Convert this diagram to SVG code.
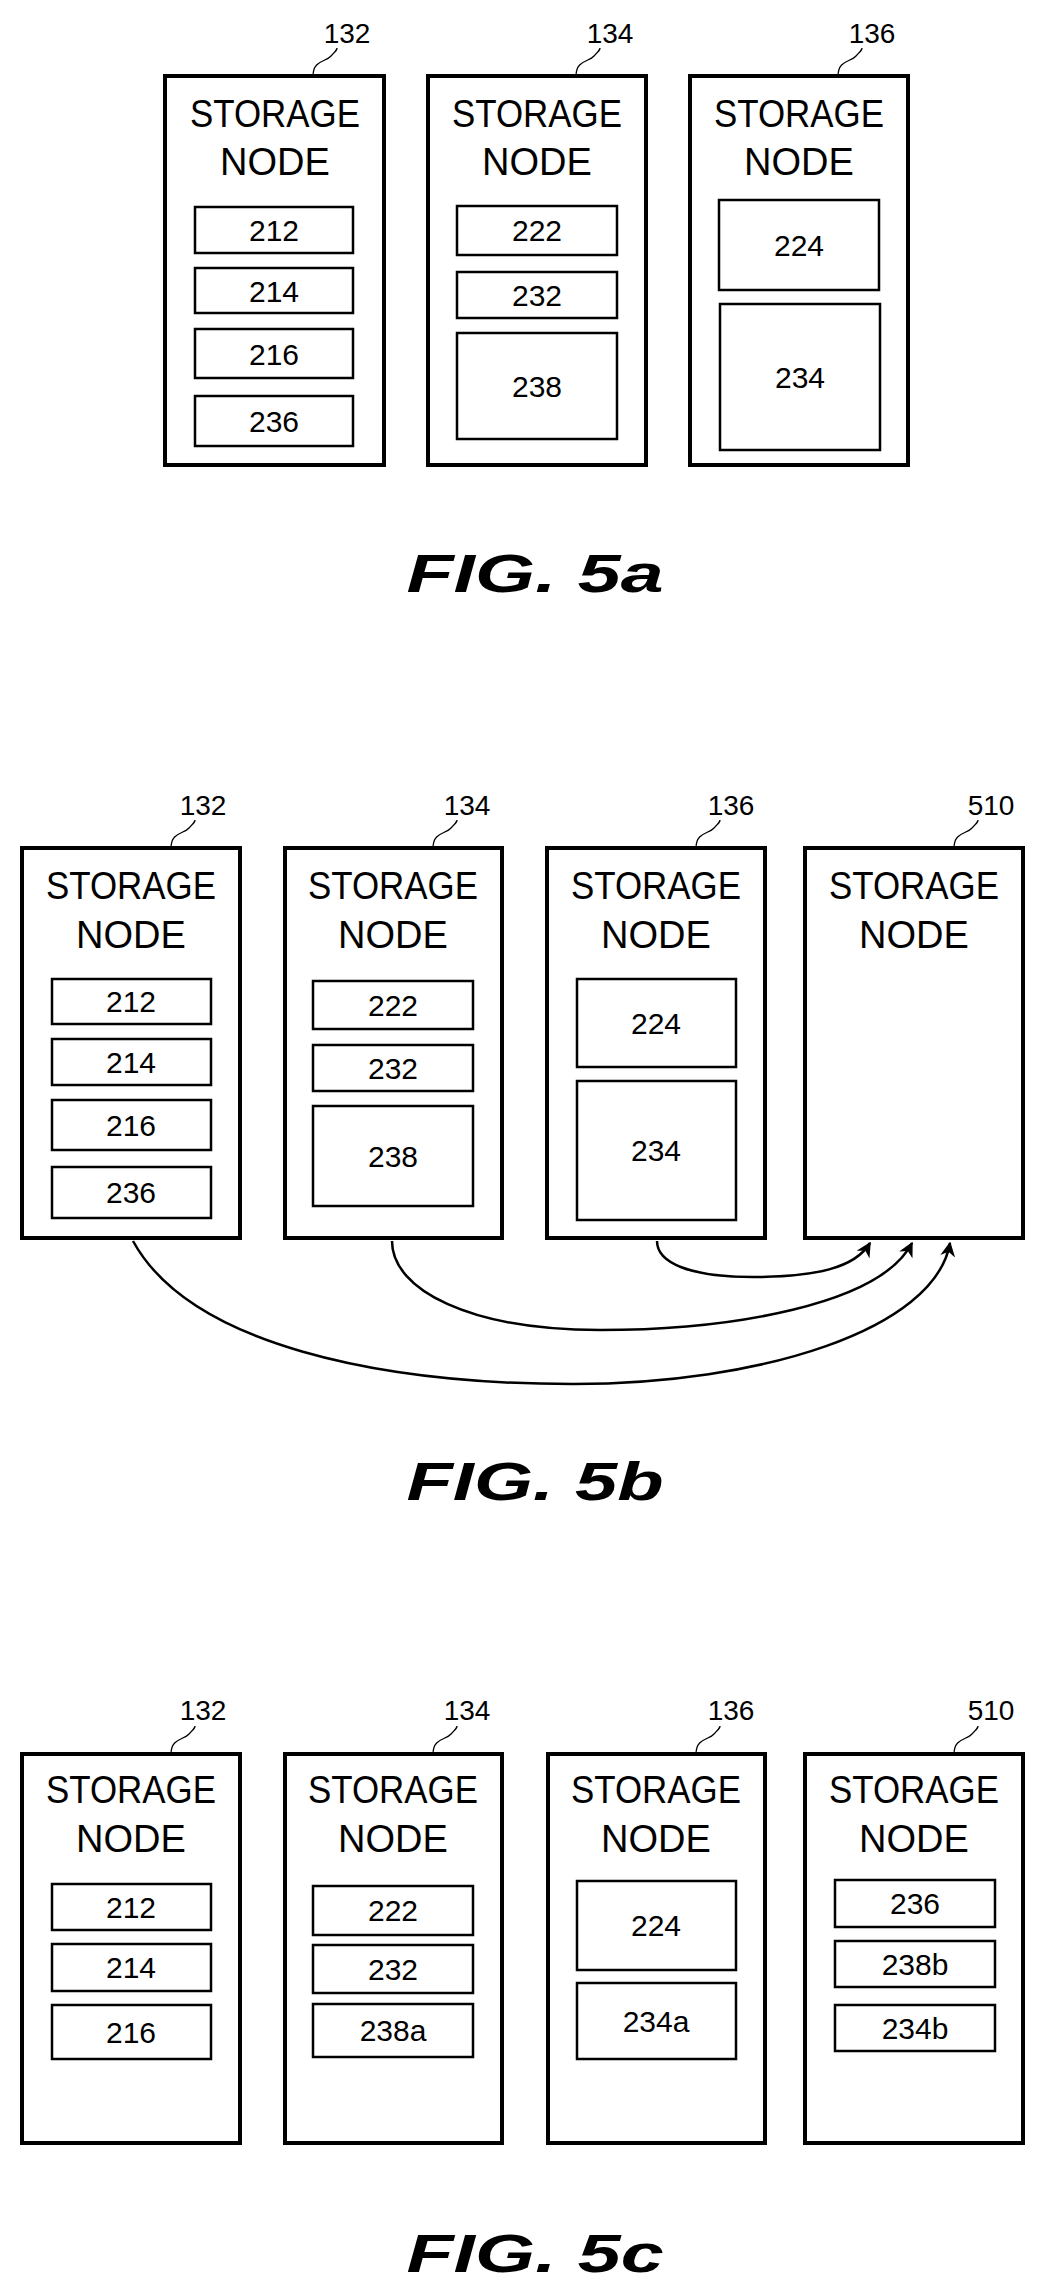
<svg xmlns="http://www.w3.org/2000/svg" width="1038" height="2289" viewBox="0 0 1038 2289">
<defs>
<style>
.n{fill:#fff;stroke:#000;stroke-width:4}
.s{fill:#fff;stroke:#000;stroke-width:2.5}
.t{font-family:"Liberation Sans",Arial,sans-serif;font-size:38px;text-anchor:middle}
.d{font-family:"Liberation Sans",Arial,sans-serif;font-size:30px;text-anchor:middle}
.r{font-family:"Liberation Sans",Arial,sans-serif;font-size:28px;text-anchor:middle}
.f{font-family:"Liberation Sans",Arial,sans-serif;font-size:54px;font-weight:bold;font-style:italic;text-anchor:middle}
.l{fill:none;stroke:#000;stroke-width:1.3}
.c{fill:none;stroke:#000;stroke-width:2.5}
</style>
<marker id="ah" viewBox="0 0 10 10" refX="9" refY="5" markerWidth="6" markerHeight="6" orient="auto" markerUnits="strokeWidth"><path d="M0,0L10,5L0,10L3,5Z" fill="#000"/></marker>
</defs>

<!-- FIG 5a -->
<g id="n5a-132">
<rect class="n" x="165" y="76" width="219" height="389"/>
<text class="t" x="275" y="127" textLength="170" lengthAdjust="spacingAndGlyphs">STORAGE</text>
<text class="t" x="275" y="175">NODE</text>
<rect class="s" x="195" y="207" width="158" height="46"/><text class="d" x="274" y="241">212</text>
<rect class="s" x="195" y="268" width="158" height="45"/><text class="d" x="274" y="302">214</text>
<rect class="s" x="195" y="329" width="158" height="49"/><text class="d" x="274" y="365">216</text>
<rect class="s" x="195" y="396" width="158" height="50"/><text class="d" x="274" y="432">236</text>
<path class="l" d="M313,76 C313,60 326,62 331,56 C336,51 337,50 337,48"/>
<text class="r" x="347" y="43">132</text>
</g>
<g id="n5a-134">
<rect class="n" x="428" y="76" width="218" height="389"/>
<text class="t" x="537" y="127" textLength="170" lengthAdjust="spacingAndGlyphs">STORAGE</text>
<text class="t" x="537" y="175">NODE</text>
<rect class="s" x="457" y="206" width="160" height="49"/><text class="d" x="537" y="241">222</text>
<rect class="s" x="457" y="272" width="160" height="46"/><text class="d" x="537" y="306">232</text>
<rect class="s" x="457" y="333" width="160" height="106"/><text class="d" x="537" y="397">238</text>
<path class="l" d="M576,76 C576,60 589,62 594,56 C599,51 600,50 600,48"/>
<text class="r" x="610" y="43">134</text>
</g>
<g id="n5a-136">
<rect class="n" x="690" y="76" width="218" height="389"/>
<text class="t" x="799" y="127" textLength="170" lengthAdjust="spacingAndGlyphs">STORAGE</text>
<text class="t" x="799" y="175">NODE</text>
<rect class="s" x="719" y="200" width="160" height="90"/><text class="d" x="799" y="256">224</text>
<rect class="s" x="720" y="304" width="160" height="146"/><text class="d" x="800" y="388">234</text>
<path class="l" d="M838,76 C838,60 851,62 856,56 C861,51 862,50 862,48"/>
<text class="r" x="872" y="43">136</text>
</g>
<text class="f" x="535" y="592" textLength="257" lengthAdjust="spacingAndGlyphs">FIG.  5a</text>

<!-- FIG 5b -->
<g id="n5b-132">
<rect class="n" x="22" y="848" width="218" height="390"/>
<text class="t" x="131" y="899" textLength="170" lengthAdjust="spacingAndGlyphs">STORAGE</text>
<text class="t" x="131" y="948">NODE</text>
<rect class="s" x="52" y="979" width="159" height="45"/><text class="d" x="131" y="1012">212</text>
<rect class="s" x="52" y="1039" width="159" height="46"/><text class="d" x="131" y="1073">214</text>
<rect class="s" x="52" y="1100" width="159" height="50"/><text class="d" x="131" y="1136">216</text>
<rect class="s" x="52" y="1167" width="159" height="51"/><text class="d" x="131" y="1203">236</text>
<path class="l" d="M171,848 C171,832 184,834 189,828 C194,823 195,822 195,820"/>
<text class="r" x="203" y="815">132</text>
</g>
<g id="n5b-134">
<rect class="n" x="285" y="848" width="217" height="390"/>
<text class="t" x="393" y="899" textLength="170" lengthAdjust="spacingAndGlyphs">STORAGE</text>
<text class="t" x="393" y="948">NODE</text>
<rect class="s" x="313" y="981" width="160" height="48"/><text class="d" x="393" y="1016">222</text>
<rect class="s" x="313" y="1045" width="160" height="46"/><text class="d" x="393" y="1079">232</text>
<rect class="s" x="313" y="1106" width="160" height="100"/><text class="d" x="393" y="1167">238</text>
<path class="l" d="M433,848 C433,832 446,834 451,828 C456,823 457,822 457,820"/>
<text class="r" x="467" y="815">134</text>
</g>
<g id="n5b-136">
<rect class="n" x="547" y="848" width="218" height="390"/>
<text class="t" x="656" y="899" textLength="170" lengthAdjust="spacingAndGlyphs">STORAGE</text>
<text class="t" x="656" y="948">NODE</text>
<rect class="s" x="577" y="979" width="159" height="88"/><text class="d" x="656" y="1034">224</text>
<rect class="s" x="577" y="1081" width="159" height="139"/><text class="d" x="656" y="1161">234</text>
<path class="l" d="M696,848 C696,832 709,834 714,828 C719,823 720,822 720,820"/>
<text class="r" x="731" y="815">136</text>
</g>
<g id="n5b-510">
<rect class="n" x="805" y="848" width="218" height="390"/>
<text class="t" x="914" y="899" textLength="170" lengthAdjust="spacingAndGlyphs">STORAGE</text>
<text class="t" x="914" y="948">NODE</text>
<path class="l" d="M954,848 C954,832 967,834 972,828 C977,823 978,822 978,820"/>
<text class="r" x="991" y="815">510</text>
</g>
<g id="connectors">
<path class="c" marker-end="url(#ah)" d="M133,1241 C190,1345 380,1384 573,1384 C760,1384 935,1330 950,1243"/>
<path class="c" marker-end="url(#ah)" d="M392,1241 C392,1290 470,1330 600,1330 C730,1330 880,1305 912,1243"/>
<path class="c" marker-end="url(#ah)" d="M657,1241 C657,1263 690,1277 753,1277 C815,1277 855,1268 870,1243"/>
</g>
<text class="f" x="535" y="1500" textLength="257" lengthAdjust="spacingAndGlyphs">FIG.  5b</text>

<!-- FIG 5c -->
<g id="n5c-132">
<rect class="n" x="22" y="1754" width="218" height="389"/>
<text class="t" x="131" y="1803" textLength="170" lengthAdjust="spacingAndGlyphs">STORAGE</text>
<text class="t" x="131" y="1852">NODE</text>
<rect class="s" x="52" y="1884" width="159" height="46"/><text class="d" x="131" y="1918">212</text>
<rect class="s" x="52" y="1944" width="159" height="47"/><text class="d" x="131" y="1978">214</text>
<rect class="s" x="52" y="2005" width="159" height="54"/><text class="d" x="131" y="2043">216</text>
<path class="l" d="M171,1754 C171,1738 184,1740 189,1734 C194,1729 195,1728 195,1726"/>
<text class="r" x="203" y="1720">132</text>
</g>
<g id="n5c-134">
<rect class="n" x="285" y="1754" width="217" height="389"/>
<text class="t" x="393" y="1803" textLength="170" lengthAdjust="spacingAndGlyphs">STORAGE</text>
<text class="t" x="393" y="1852">NODE</text>
<rect class="s" x="313" y="1886" width="160" height="49"/><text class="d" x="393" y="1921">222</text>
<rect class="s" x="313" y="1945" width="160" height="48"/><text class="d" x="393" y="1980">232</text>
<rect class="s" x="313" y="2004" width="160" height="53"/><text class="d" x="393" y="2041">238a</text>
<path class="l" d="M433,1754 C433,1738 446,1740 451,1734 C456,1729 457,1728 457,1726"/>
<text class="r" x="467" y="1720">134</text>
</g>
<g id="n5c-136">
<rect class="n" x="548" y="1754" width="217" height="389"/>
<text class="t" x="656" y="1803" textLength="170" lengthAdjust="spacingAndGlyphs">STORAGE</text>
<text class="t" x="656" y="1852">NODE</text>
<rect class="s" x="577" y="1881" width="159" height="89"/><text class="d" x="656" y="1936">224</text>
<rect class="s" x="577" y="1983" width="159" height="76"/><text class="d" x="656" y="2032">234a</text>
<path class="l" d="M696,1754 C696,1738 709,1740 714,1734 C719,1729 720,1728 720,1726"/>
<text class="r" x="731" y="1720">136</text>
</g>
<g id="n5c-510">
<rect class="n" x="805" y="1754" width="218" height="389"/>
<text class="t" x="914" y="1803" textLength="170" lengthAdjust="spacingAndGlyphs">STORAGE</text>
<text class="t" x="914" y="1852">NODE</text>
<rect class="s" x="835" y="1880" width="160" height="47"/><text class="d" x="915" y="1914">236</text>
<rect class="s" x="835" y="1941" width="160" height="46"/><text class="d" x="915" y="1975">238b</text>
<rect class="s" x="835" y="2005" width="160" height="46"/><text class="d" x="915" y="2039">234b</text>
<path class="l" d="M954,1754 C954,1738 967,1740 972,1734 C977,1729 978,1728 978,1726"/>
<text class="r" x="991" y="1720">510</text>
</g>
<text class="f" x="535" y="2272" textLength="257" lengthAdjust="spacingAndGlyphs">FIG.  5c</text>
</svg>
